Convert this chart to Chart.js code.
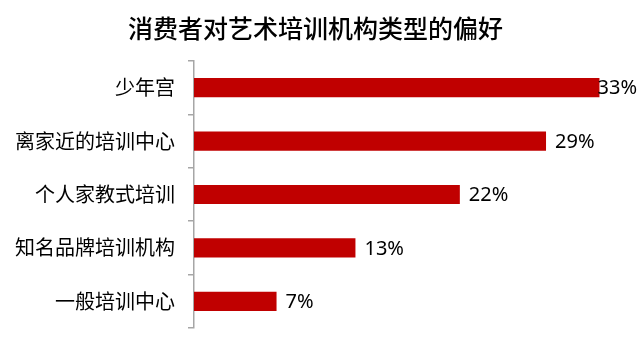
<!DOCTYPE html>
<html>
<head>
<meta charset="utf-8">
<script src="https://cdn.jsdelivr.net/npm/chart.js@4"></script>
<style>
  html, body { margin: 0; padding: 0; background: #fff; }
  #wrap { width: 640px; height: 345px; }
</style>
</head>
<body>
<div id="wrap"><canvas id="grafico"></canvas></div>
<script>
var categorias = ["少年宫", "离家近的培训中心", "个人家教式培训", "知名品牌培训机构", "一般培训中心"];
var valores = [33.4, 29.0, 21.9, 13.3, 6.8];
var rotulos = ["33%", "29%", "22%", "13%", "7%"];

var fonte = "'Noto Sans CJK SC', 'Noto Sans', sans-serif";

// labels at the end of each bar, kept inside the canvas
var rotulosBarras = {
    id: "rotulosBarras",
    afterDatasetsDraw: function(chart) {
        var ctx = chart.ctx;
        var meta = chart.getDatasetMeta(0);
        ctx.save();
        ctx.font = "20px 'Noto Sans', sans-serif";
        ctx.fillStyle = "#000";
        ctx.textBaseline = "middle";
        ctx.textAlign = "left";
        meta.data.forEach(function(bar, i) {
            var txt = rotulos[i];
            var w = ctx.measureText(txt).width;
            var x = Math.min(bar.x + 9, chart.width - w - 3);
            ctx.fillText(txt, x, bar.y + 1);
        });
        ctx.restore();
    }
};

new Chart(document.getElementById("grafico").getContext("2d"), {
    type: "bar",
    data: {
        labels: categorias,
        datasets: [{
            data: valores,
            backgroundColor: "#C00000",
            borderWidth: 0,
            categoryPercentage: 1,
            barPercentage: 0.36
        }]
    },
    options: {
        indexAxis: "y",
        responsive: true,
        maintainAspectRatio: false,
        animation: false,
        layout: { padding: { left: 0, right: 9, top: 0, bottom: 17 } },
        plugins: {
            legend: { display: false },
            tooltip: { enabled: false },
            title: {
                display: true,
                text: "消费者对艺术培训机构类型的偏好",
                color: "#000",
                font: { family: fonte, size: 25, weight: "500" },
                padding: { top: 13, bottom: 18 }
            }
        },
        scales: {
            x: {
                display: false,
                min: 0,
                max: 36
            },
            y: {
                afterFit: function(scale) {
                    scale.width = 194;
                    scale.paddingTop = 0;
                    scale.paddingBottom = 0;
                },
                grid: {
                    drawOnChartArea: false,
                    drawTicks: true,
                    tickLength: 6,
                    offset: true,
                    color: "#A6A6A6",
                    lineWidth: 1.5
                },
                border: { display: true, color: "#A6A6A6", width: 1.5 },
                ticks: {
                    padding: 13,
                    color: "#000",
                    font: { family: fonte, size: 20 }
                }
            }
        }
    },
    plugins: [rotulosBarras]
});
</script>
</body>
</html>
